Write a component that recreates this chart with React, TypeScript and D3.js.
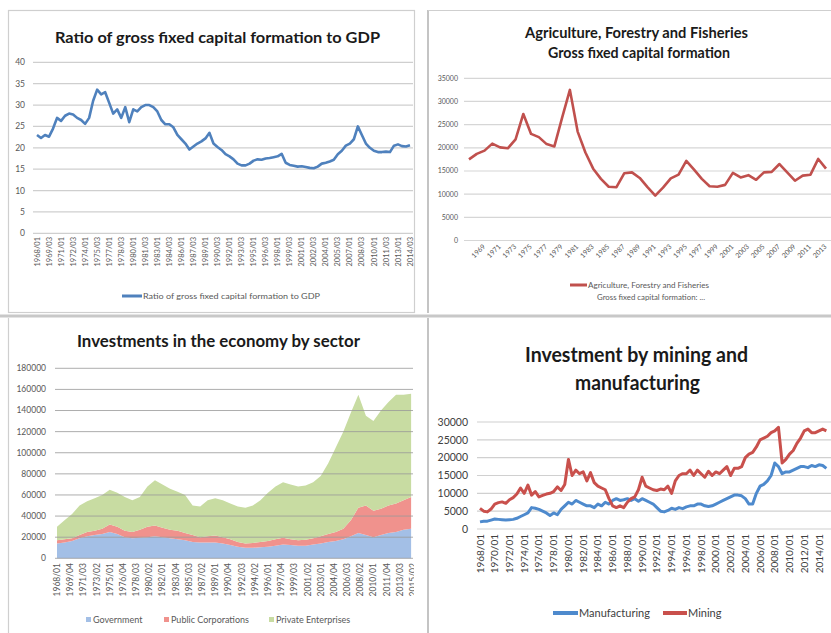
import React from "react";
import * as d3 from "d3";

const FONT = "Lato, 'Open Sans', 'DejaVu Sans', sans-serif";
const AXIS = "#595959";

// ---------- Panel 1: ratio of GFCF to GDP (half-yearly from 1968/01)
const ratioStartYear = 1968;
const ratioValues = [
  23.0, 22.3, 23.0, 22.6, 24.5, 27.0, 26.3, 27.5, 28.0, 27.8,
  27.0, 26.5, 25.6, 27.0, 31.0, 33.6, 32.5, 33.0, 30.5, 28.0,
  29.0, 27.0, 29.5, 26.0, 29.0, 28.5, 29.5, 30.0, 30.0, 29.5,
  28.5, 26.5, 25.5, 25.5, 24.8, 23.0, 22.0, 21.0, 19.6, 20.3,
  21.0, 21.5, 22.2, 23.5, 21.0, 20.2, 19.5, 18.5, 18.0, 17.3,
  16.3, 15.9, 15.9, 16.3, 17.0, 17.3, 17.2, 17.5, 17.6, 17.8,
  18.0, 18.6, 16.5, 16.0, 15.8, 15.6, 15.7, 15.5, 15.3, 15.2,
  15.6, 16.3, 16.5, 16.8, 17.2, 18.5, 19.3, 20.5, 21.0, 22.0,
  25.0, 23.0, 21.0, 20.0, 19.3, 19.0, 19.0, 19.1, 19.0, 20.5,
  20.8, 20.4, 20.3, 20.6,
];
const ratioYTicks = [0, 5, 10, 15, 20, 25, 30, 35, 40];
const ratioXLabels = [
  "1968/01", "1969/03", "1971/01", "1972/03", "1974/01", "1975/03", "1977/01", "1978/03",
  "1980/01", "1981/03", "1983/01", "1984/03", "1986/01", "1987/03", "1989/01", "1990/03",
  "1992/01", "1993/03", "1995/01", "1996/03", "1998/01", "1999/03", "2001/01", "2002/03",
  "2004/01", "2005/03", "2007/01", "2008/03", "2010/01", "2011/03", "2013/01", "2014/03",
];

// ---------- Panel 2: Agriculture, Forestry and Fisheries GFCF (annual from 1968)
const agriStartYear = 1968;
const agriValues = [
  17500, 18700, 19400, 20900, 20100, 19900, 21800, 27300, 23000, 22300,
  20800, 20300, 26500, 32500, 23500, 19000, 15500, 13300, 11600, 11500,
  14500, 14700, 13500, 11500, 9700, 11400, 13400, 14200, 17200, 15300,
  13300, 11700, 11600, 12000, 14600, 13600, 14100, 13100, 14700, 14800,
  16500, 14700, 12900, 14000, 14200, 17600, 15500,
];
const agriYTicks = [0, 5000, 10000, 15000, 20000, 25000, 30000, 35000];
const agriXLabels = [
  "1969", "1971", "1973", "1975", "1977", "1979", "1981", "1983", "1985", "1987", "1989", "1991",
  "1993", "1995", "1997", "1999", "2001", "2003", "2005", "2007", "2009", "2011", "2013",
];

// ---------- Panel 3: investments by sector (annual from 1968, stacked)
const sectorStartYear = 1968;
const sectorKeys = ["Government", "Public Corporations", "Private Enterprises"];
const governmentValues = [
  14000, 15000, 16500, 19000, 21000, 22000, 23000, 25000, 23000, 20000,
  19000, 19500, 20000, 21000, 20000, 19000, 18000, 17000, 15500, 15000,
  15000, 15000, 14000, 12500, 11000, 10000, 10000, 10500, 11000, 12000,
  13000, 12500, 12000, 12000, 13000, 14000, 15500, 16500, 18000, 21000,
  24000, 22000, 20000, 22000, 24000, 25000, 27000, 28000,
];
const publicCorpValues = [
  3000, 3000, 2500, 3000, 4000, 4000, 5000, 7000, 7000, 6000,
  6000, 7500, 10000, 10000, 9000, 8000, 8000, 7000, 6500, 5000,
  6000, 6500, 6000, 5500, 4500, 4000, 4500, 5000, 5500, 6000,
  6500, 5500, 5000, 5500, 6000, 7000, 7500, 8500, 10000, 15000,
  24000, 28000, 25000, 25000, 26000, 27000, 28000, 30000,
];
const privateValues = [
  13000, 18000, 23000, 28000, 29000, 31000, 32000, 33000, 32000, 32000,
  30000, 31000, 38000, 43000, 41000, 39000, 37000, 36000, 28000, 29000,
  34000, 35500, 35000, 34000, 33500, 34000, 35500, 39500, 45500, 50000,
  52500, 52000, 51000, 51500, 53000, 57000, 67000, 80000, 92000, 102000,
  107000, 85000, 85000, 93000, 98000, 103000, 100000, 98000,
];
const sectorYTicks = [0, 20000, 40000, 60000, 80000, 100000, 120000, 140000, 160000, 180000];
const sectorXLabels = [
  "1968/01", "1969/04", "1971/03", "1973/02", "1975/01", "1976/04", "1978/03", "1980/02",
  "1982/01", "1983/04", "1985/03", "1987/02", "1989/01", "1990/04", "1992/03", "1994/02",
  "1996/01", "1997/04", "1999/03", "2001/02", "2003/01", "2004/04", "2006/03", "2008/02",
  "2010/01", "2011/04", "2013/03", "2015/02",
];

// ---------- Panel 4: mining & manufacturing (half-yearly from 1968/01)
const mmStartYear = 1968;
const manufacturingValues = [
  2000, 2200, 2200, 2500, 2800, 2700, 2600, 2500, 2600, 2700,
  3000, 3500, 4000, 4500, 6000, 5800, 5500, 5000, 4500, 3800,
  4500, 4000, 5500, 6500, 7500, 7000, 8000, 7500, 7000, 6500,
  6500, 6000, 7000, 6500, 7500, 7000, 8000, 8500, 8000, 8200,
  8500, 8000, 8500, 7800, 8500, 8000, 7500, 7000, 6000, 5000,
  4800, 5200, 5800, 5500, 6000, 5700, 6200, 6500, 6500, 7000,
  7000, 6500, 6300, 6500, 7000, 7500, 8000, 8500, 9000, 9500,
  9500, 9300, 8500, 7000, 7000, 10000, 12000, 12500, 13500, 15000,
  18500, 17500, 15500, 16000, 16000, 16500, 17000, 17500, 17500, 17200,
  17800, 17500, 18000, 17800, 17000,
];
const miningValues = [
  5800, 5000, 4800, 5600, 7000, 7400, 7600, 7200, 8200, 8800,
  9800, 11500, 10000, 12300, 9500, 10500, 9000, 9400, 9800, 10000,
  10500, 11800, 10800, 12500, 19500, 15000, 16500, 15500, 16000, 13500,
  15800, 13000, 12000, 11500, 11000, 8500, 6500, 6000, 6500, 6000,
  7500, 8500, 9000, 11000, 14500, 12000, 11500, 11000, 10800, 11200,
  11000, 12000, 10000, 13500, 15000, 15500, 15500, 16500, 15000, 16500,
  15500, 14500, 16200, 15000, 16000, 15500, 16500, 17500, 15000, 17000,
  17000, 17500, 20000, 21000, 21500, 23000, 25000, 25500, 26000, 27000,
  27500, 28500, 18500, 19500, 21000, 22000, 24000, 25500, 27500, 28000,
  27000, 27000, 27500, 28000, 27500,
];
const mmYTicks = [0, 5000, 10000, 15000, 20000, 25000, 30000];
const mmXLabels = [
  "1968/01", "1970/01", "1972/01", "1974/01", "1976/01", "1978/01", "1980/01", "1982/01",
  "1984/01", "1986/01", "1988/01", "1990/01", "1992/01", "1994/01", "1996/01", "1998/01",
  "2000/01", "2002/01", "2004/01", "2006/01", "2008/01", "2010/01", "2012/01", "2014/01",
];

const quarterToYear = (s: string) => {
  const [y, q] = s.split("/").map(Number);
  return y + (q - 1) / 4;
};

function Panel1() {
  const x = d3.scaleLinear().domain([1968, 2014.5]).range([37, 410]);
  const y = d3.scaleLinear().domain([0, 40]).range([233.3, 62.3]);
  const line = d3
    .line<number>()
    .x((_, i) => x(ratioStartYear + i * 0.5))
    .y((d) => y(d));
  return (
    <g>
      <text x={217.5} y={43} textAnchor="middle" fontFamily={FONT} fontWeight="bold" fontSize={16} textLength={325} lengthAdjust="spacingAndGlyphs" fill="#1a1a1a">
        Ratio of gross fixed capital formation to GDP
      </text>
      {ratioYTicks.map((t) => (
        <g key={t}>
          <line x1={33} x2={413} y1={y(t)} y2={y(t)} stroke="#cfcfcf" strokeWidth={1.3} />
          <text x={25} y={y(t)} dy="0.35em" textAnchor="end" fontFamily={FONT} fontSize={8.5} fill={AXIS}>{t}</text>
        </g>
      ))}
      <path d={line(ratioValues) || ""} fill="none" stroke="#4F81BD" strokeWidth={2.6} strokeLinejoin="round" />
      {ratioXLabels.map((l) => (
        <text key={l} transform={`translate(${x(quarterToYear(l))},237) rotate(-90)`} dy="0.35em" textAnchor="end" fontFamily={FONT} fontSize={7.5} fill={AXIS}>{l}</text>
      ))}
      <line x1={122} x2={142} y1={296} y2={296} stroke="#4F81BD" strokeWidth={3} />
      <text x={143} y={298.5} fontFamily={FONT} fontSize={8} fill={AXIS} textLength={177} lengthAdjust="spacingAndGlyphs">Ratio of gross fixed capital formation to GDP</text>
    </g>
  );
}

function Panel2() {
  const x = d3.scaleLinear().domain([1968, 2014]).range([469, 826]);
  const y = d3.scaleLinear().domain([0, 35000]).range([240.5, 78.3]);
  const line = d3
    .line<number>()
    .x((_, i) => x(agriStartYear + i))
    .y((d) => y(d));
  return (
    <g>
      <text x={636.5} y={38} textAnchor="middle" fontFamily={FONT} fontWeight="bold" fontSize={14.5} textLength={223} lengthAdjust="spacingAndGlyphs" fill="#1a1a1a">
        Agriculture, Forestry and Fisheries
      </text>
      <text x={639} y={58} textAnchor="middle" fontFamily={FONT} fontWeight="bold" fontSize={14.5} textLength={182} lengthAdjust="spacingAndGlyphs" fill="#1a1a1a">
        Gross fixed capital formation
      </text>
      {agriYTicks.map((t) => (
        <g key={t}>
          <line x1={464} x2={831} y1={y(t)} y2={y(t)} stroke="#d6d6d6" strokeWidth={1.2} />
          <text x={458} y={y(t)} dy="0.35em" textAnchor="end" fontFamily={FONT} fontSize={7} fill={AXIS}>{t}</text>
        </g>
      ))}
      <path d={line(agriValues) || ""} fill="none" stroke="#C0504D" strokeWidth={2.6} strokeLinejoin="round" />
      {agriXLabels.map((l) => (
        <text key={l} transform={`translate(${x(+l) + 9},247) rotate(-45)`} textAnchor="end" fontFamily={FONT} fontSize={7} fill={AXIS}>{l}</text>
      ))}
      <line x1={570} x2={587} y1={285} y2={285} stroke="#C0504D" strokeWidth={3} />
      <text x={588} y={287.5} fontFamily={FONT} fontSize={7} fill={AXIS} textLength={121} lengthAdjust="spacingAndGlyphs">Agriculture, Forestry and Fisheries</text>
      <text x={597} y={300} fontFamily={FONT} fontSize={7} fill={AXIS} textLength={108} lengthAdjust="spacingAndGlyphs">Gross fixed capital formation: ...</text>
    </g>
  );
}

function Panel3() {
  const x = d3.scaleLinear().domain([1968, 2015.25]).range([57, 413]);
  const y = d3.scaleLinear().domain([0, 180000]).range([558.3, 368.3]);
  const rows = governmentValues.map((g, i) => ({
    year: sectorStartYear + i,
    Government: g,
    "Public Corporations": publicCorpValues[i],
    "Private Enterprises": privateValues[i],
  }));
  const stack = d3.stack<any>().keys(sectorKeys);
  const series = stack(rows);
  const area = d3
    .area<any>()
    .x((d) => x(d.data.year))
    .y0((d) => y(d[0]))
    .y1((d) => y(d[1]));
  const colors = ["#a3bfe6", "#f0928d", "#c8dca2"];
  const legendX = [86, 164, 269];
  return (
    <g>
      <text x={218.5} y={347} textAnchor="middle" fontFamily={FONT} fontWeight="bold" fontSize={17.5} textLength={283} lengthAdjust="spacingAndGlyphs" fill="#1a1a1a">
        Investments in the economy by sector
      </text>
      {series.map((s, i) => (
        <path key={s.key} d={area(s as any) || ""} fill={colors[i]} />
      ))}
      {sectorYTicks.map((t) => (
        <g key={t}>
          <line x1={55} x2={413} y1={y(t)} y2={y(t)} stroke="#9a9a9a" strokeWidth={1} opacity={0.8} />
          <text x={46} y={y(t)} dy="0.35em" textAnchor="end" fontFamily={FONT} fontSize={8.5} fill={AXIS}>{t}</text>
        </g>
      ))}
      {sectorXLabels.map((l) => (
        <text key={l} transform={`translate(${x(quarterToYear(l))},563) rotate(-90)`} dy="0.35em" textAnchor="end" fontFamily={FONT} fontSize={8.5} fill={AXIS}>{l}</text>
      ))}
      {sectorKeys.map((k, i) => (
        <g key={k}>
          <rect x={legendX[i]} y={617} width={5} height={5} fill={colors[i]} />
          <text x={legendX[i] + 7} y={622.5} fontFamily={FONT} fontSize={9} fill={AXIS}>{k}</text>
        </g>
      ))}
    </g>
  );
}

function Panel4() {
  const x = d3.scaleLinear().domain([1968, 2014]).range([480, 819]);
  const y = d3.scaleLinear().domain([0, 30000]).range([529, 422]);
  const line = d3
    .line<number>()
    .x((_, i) => x(mmStartYear + i * 0.5))
    .y((d) => y(d));
  return (
    <g>
      <text x={636.5} y={362} textAnchor="middle" fontFamily={FONT} fontWeight="bold" fontSize={21} textLength={223} lengthAdjust="spacingAndGlyphs" fill="#1a1a1a">
        Investment by mining and
      </text>
      <text x={637.5} y={390} textAnchor="middle" fontFamily={FONT} fontWeight="bold" fontSize={21} textLength={125} lengthAdjust="spacingAndGlyphs" fill="#1a1a1a">
        manufacturing
      </text>
      {mmYTicks.map((t) => (
        <g key={t}>
          <line x1={477} x2={831} y1={y(t)} y2={y(t)} stroke="#d0d0d0" strokeWidth={1.2} />
          <text x={468} y={y(t)} dy="0.35em" textAnchor="end" fontFamily={FONT} fontSize={10.5} fill="#404040">{t}</text>
        </g>
      ))}
      <path d={line(manufacturingValues) || ""} fill="none" stroke="#4E8ACD" strokeWidth={3} strokeLinejoin="round" />
      <path d={line(miningValues) || ""} fill="none" stroke="#C9504C" strokeWidth={3} strokeLinejoin="round" />
      {mmXLabels.map((l) => (
        <text key={l} transform={`translate(${x(quarterToYear(l))},534) rotate(-90)`} dy="0.35em" textAnchor="end" fontFamily={FONT} fontSize={10} fill="#404040">{l}</text>
      ))}
      <line x1={553} x2={578} y1={613} y2={613} stroke="#4E8ACD" strokeWidth={4} />
      <text x={579} y={617} fontFamily={FONT} fontSize={11} fill="#404040">Manufacturing</text>
      <line x1={663} x2={687} y1={613} y2={613} stroke="#C9504C" strokeWidth={4} />
      <text x={688} y={617} fontFamily={FONT} fontSize={11} fill="#404040">Mining</text>
    </g>
  );
}

export default function App() {
  return (
    <svg width={831} height={633} style={{ position: "absolute", left: 0, top: 0, background: "#fff" }}>
      <rect x={0} y={0} width={831} height={633} fill="#fff" />
      <defs>
        <clipPath id="c1"><rect x={8} y={10} width={406} height={303} /></clipPath>
        <clipPath id="c2"><rect x={428} y={10} width={403} height={303} /></clipPath>
        <clipPath id="c3"><rect x={8} y={318} width={406} height={315} /></clipPath>
        <clipPath id="c4"><rect x={428} y={318} width={403} height={315} /></clipPath>
      </defs>
      <g clipPath="url(#c1)"><Panel1 /></g>
      <g clipPath="url(#c2)"><Panel2 /></g>
      <g clipPath="url(#c3)"><Panel3 /></g>
      <g clipPath="url(#c4)"><Panel4 /></g>
      <rect x={8.5} y={10.5} width={406} height={302} fill="none" stroke="#cfcfcf" strokeWidth={1.2} />
      <line x1={428} x2={428} y1={10} y2={313} stroke="#c4c4c4" strokeWidth={2} />
      <line x1={428} x2={831} y1={10.5} y2={10.5} stroke="#cfcfcf" strokeWidth={1.2} />
      <line x1={0} x2={831} y1={316} y2={316} stroke="#c8c8c8" strokeWidth={3} />
      <line x1={8.5} x2={8.5} y1={318} y2={633} stroke="#cfcfcf" strokeWidth={1.2} />
      <line x1={428} x2={428} y1={318} y2={633} stroke="#c4c4c4" strokeWidth={2} />
    </svg>
  );
}
